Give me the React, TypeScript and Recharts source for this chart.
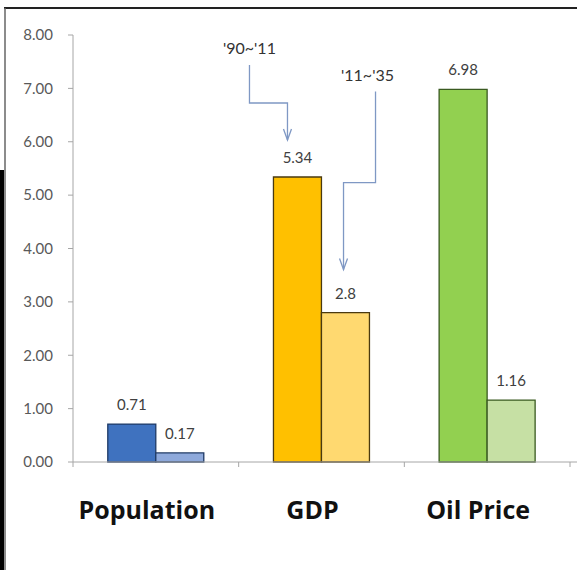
import { BarChart, Bar, XAxis, YAxis, Cell, LabelList } from 'recharts'

const CATEGORIES = ['Population', 'GDP', 'Oil Price']
const GROWTH_90_11 = [0.71, 5.34, 6.98]
const GROWTH_11_35 = [0.17, 2.8, 1.16]
const Y_TICKS = [0, 1, 2, 3, 4, 5, 6, 7, 8]
const PERIOD_LABELS = ["'90~'11", "'11~'35"]

const DARK_FILLS = ['#3f72bf', '#ffc000', '#92d050']
const LIGHT_FILLS = ['#8ea9db', '#ffd970', '#c6e0a4']
const BORDERS = ['#1f3a66', '#4a3a10', '#3a5a20']

const W = 577
const H = 570
const TOP = 35
const LEFT = 73
const RIGHT = 570
const BOTTOM = 462
const Y_MAX = 8
const CAT_GAP = 0.21

const data = CATEGORIES.map((name, i) => ({
  name,
  early: GROWTH_90_11[i],
  late: GROWTH_11_35[i],
}))

// same geometry recharts uses, for the callout arrows
const band = (RIGHT - LEFT) / CATEGORIES.length
const barW = (band * (1 - 2 * CAT_GAP)) / 2
const barCenter = (cat: number, series: number) =>
  LEFT + band * cat + band * CAT_GAP + barW * (series + 0.5)
const yOf = (v: number) => TOP + ((Y_MAX - v) / Y_MAX) * (BOTTOM - TOP)

function CategoryTick(props: any) {
  const { x, payload, index } = props
  const left = x - band / 2
  return (
    <g>
      <line x1={left} x2={left} y1={BOTTOM} y2={BOTTOM + 5} stroke="#a6a6a6" />
      {index === CATEGORIES.length - 1 && (
        <line x1={left + band} x2={left + band} y1={BOTTOM} y2={BOTTOM + 5} stroke="#a6a6a6" />
      )}
      <text
        x={x - 9}
        y={BOTTOM + 57}
        textAnchor="middle"
        fontFamily="'Open Sans', sans-serif"
        fontWeight={700}
        fontSize={25}
        fill="#111"
      >
        {payload.value}
      </text>
    </g>
  )
}

function Callout({ label, tipX, tipY, elbowX, elbowY, startY, textX, textY }: {
  label: string
  tipX: number
  tipY: number
  elbowX: number
  elbowY: number
  startY: number
  textX: number
  textY: number
}) {
  return (
    <g>
      <text x={textX} y={textY} textAnchor="middle" fontFamily="Lato, sans-serif" fontSize={16} fill="#333">
        {label}
      </text>
      <polyline
        points={`${elbowX},${startY} ${elbowX},${elbowY} ${tipX},${elbowY} ${tipX},${tipY}`}
        fill="none"
        stroke="#7f98c4"
        strokeWidth={1.3}
      />
      <polyline
        points={`${tipX - 4},${tipY - 11} ${tipX},${tipY} ${tipX + 4},${tipY - 11}`}
        fill="none"
        stroke="#7f98c4"
        strokeWidth={1.3}
      />
    </g>
  )
}

export default function App() {
  const tip1X = barCenter(1, 0) - 10
  const tip1Y = yOf(GROWTH_90_11[1]) - 37
  const tip2X = barCenter(1, 1) - 2
  const tip2Y = yOf(GROWTH_11_35[1]) - 43

  return (
    <div style={{ position: 'relative', width: W, height: H, background: '#fff' }}>
      <style>{'body{margin:0}'}</style>
      <BarChart
        width={W}
        height={H}
        data={data}
        margin={{ top: TOP, right: W - RIGHT, left: 0, bottom: 0 }}
        barCategoryGap={`${CAT_GAP * 100}%`}
        barGap={0}
      >
        <YAxis
          width={LEFT}
          domain={[0, Y_MAX]}
          ticks={Y_TICKS}
          interval={0}
          tickFormatter={(v: number) => v.toFixed(2)}
          axisLine={{ stroke: '#a6a6a6' }}
          tickLine={{ stroke: '#a6a6a6' }}
          tickSize={5}
          tickMargin={15}
          tick={{ fill: '#595959', fontSize: 15, fontFamily: 'Lato, sans-serif' }}
        />
        <XAxis
          dataKey="name"
          height={H - BOTTOM}
          axisLine={{ stroke: '#a6a6a6' }}
          tickLine={false}
          interval={0}
          tick={<CategoryTick />}
        />
        <Bar dataKey="early" isAnimationActive={false} strokeWidth={1.3}>
          {data.map((_d, i) => (
            <Cell key={`e-${i}`} fill={DARK_FILLS[i]} stroke={BORDERS[i]} />
          ))}
          <LabelList dataKey="early" position="top" offset={14} fill="#404040" fontSize={15} fontFamily="Lato, sans-serif" />
        </Bar>
        <Bar dataKey="late" isAnimationActive={false} strokeWidth={1.3}>
          {data.map((_d, i) => (
            <Cell key={`l-${i}`} fill={LIGHT_FILLS[i]} stroke={BORDERS[i]} />
          ))}
          <LabelList dataKey="late" position="top" offset={14} fill="#404040" fontSize={15} fontFamily="Lato, sans-serif" />
        </Bar>
      </BarChart>
      <svg width={W} height={H} style={{ position: 'absolute', left: 0, top: 0, pointerEvents: 'none' }}>
        {/* frame */}
        <line x1={4} x2={W} y1={8} y2={8} stroke="#222" strokeWidth={2} />
        <line x1={5} x2={5} y1={8} y2={H} stroke="#666" strokeWidth={1.5} />
        <line x1={2} x2={2} y1={170} y2={H} stroke="#000" strokeWidth={4} />
        <line x1={RIGHT} x2={W} y1={BOTTOM} y2={BOTTOM} stroke="#a6a6a6" />
        <Callout
          label={PERIOD_LABELS[0]}
          tipX={tip1X}
          tipY={tip1Y}
          elbowX={tip1X - 38}
          elbowY={tip1Y - 37}
          startY={tip1Y - 75}
          textX={tip1X - 38}
          textY={tip1Y - 86}
        />
        <Callout
          label={PERIOD_LABELS[1]}
          tipX={tip2X}
          tipY={tip2Y}
          elbowX={tip2X + 32}
          elbowY={tip2Y - 87}
          startY={tip2Y - 178}
          textX={tip2X + 24}
          textY={tip2Y - 189}
        />
      </svg>
    </div>
  )
}
